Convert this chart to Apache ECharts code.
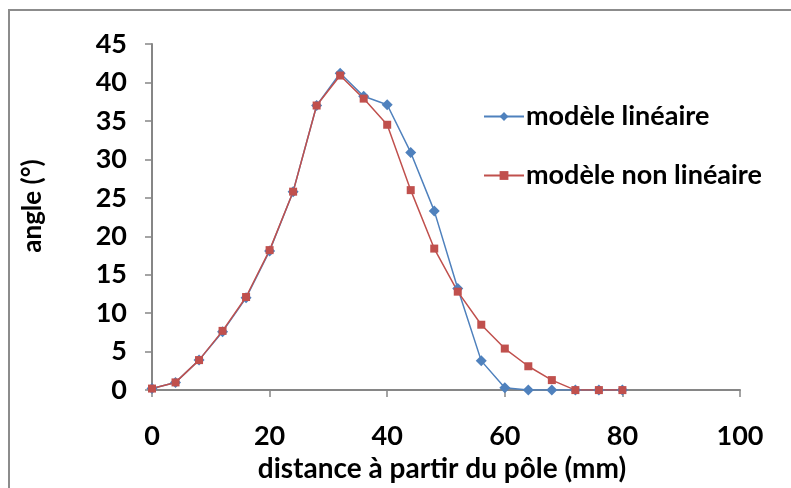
<!DOCTYPE html>
<html>
<head>
<meta charset="utf-8">
<script src="https://cdn.jsdelivr.net/npm/echarts@6/dist/echarts.min.js"></script>
<style>html,body{margin:0;padding:0;background:#fff}#c{width:791px;height:488px}</style>
</head>
<body>
<div id="c"></div>
<script>
const distances = [0,4,8,12,16,20,24,28,32,36,40,44,48,52,56,60,64,68,72,76,80];
const lineaire = [0.2,1.0,3.9,7.6,12.0,18.1,25.8,37.0,41.2,38.2,37.1,30.9,23.3,13.2,3.8,0.3,0,0,0,0,0];
const nonLineaire = [0.2,1.0,3.9,7.7,12.1,18.2,25.8,37.0,40.9,37.9,34.5,26.0,18.4,12.8,8.5,5.4,3.1,1.3,0,0,0];
const xTicks = [0,20,40,60,80,100];
const yTicks = [0,5,10,15,20,25,30,35,40,45];
const seriesNames = ['modèle linéaire','modèle non linéaire'];

const FONT = 'Lato, "Open Sans", sans-serif';
const chart = echarts.init(document.getElementById('c'), null, {renderer:'canvas'});
const axisColor = '#868686';
chart.setOption({
  animation:false,
  graphic:[{type:'rect', shape:{x:9,y:10,width:800,height:500}, style:{fill:'none', stroke:'#8c8c8c', lineWidth:2}, silent:true}],
  grid:{left:152, top:44, width:588, height:349, containLabel:false},
  legend:{
    orient:'vertical', left:478, top:98, itemGap:32, itemWidth:40, itemHeight:11,
    textStyle:{fontFamily:FONT, fontWeight:'bold', fontSize:27, color:'#000', padding:[0,0,0,-3]},
    data:seriesNames
  },
  xAxis:{
    type:'value', min:xTicks[0], max:xTicks[xTicks.length-1], interval:20,
    name:'distance à partir du pôle (mm)', nameLocation:'middle', nameGap:62,
    nameTextStyle:{fontFamily:FONT, fontWeight:'bold', fontSize:28, color:'#000', padding:[0,8,0,0]},
    axisLine:{lineStyle:{color:axisColor, width:2}},
    axisTick:{length:7, lineStyle:{color:axisColor, width:1.5}},
    axisLabel:{margin:33, fontFamily:FONT, fontWeight:'bold', fontSize:27, color:'#000'},
    splitLine:{show:false}
  },
  yAxis:{
    type:'value', min:yTicks[0], max:yTicks[yTicks.length-1], interval:5,
    name:'angle (°)', nameLocation:'middle', nameGap:106, nameRotate:90,
    nameTextStyle:{fontFamily:FONT, fontWeight:'bold', fontSize:26, color:'#000', padding:[0,0,0,22]},
    axisLine:{show:true, lineStyle:{color:axisColor, width:2}},
    axisTick:{show:true, length:7, lineStyle:{color:axisColor, width:1.5}},
    axisLabel:{margin:25, fontFamily:FONT, fontWeight:'bold', fontSize:27, color:'#000'},
    splitLine:{show:false}
  },
  series:[
    {name:seriesNames[0], type:'line', data:distances.map((d,i)=>[d,lineaire[i]]),
     symbol:'diamond', symbolSize:11, color:'#4F81BD',
     lineStyle:{width:1.5, color:'#4F81BD'}, itemStyle:{color:'#4F81BD'}},
    {name:seriesNames[1], type:'line', data:distances.map((d,i)=>[d,nonLineaire[i]]),
     symbol:'rect', symbolSize:8, color:'#C0504D',
     lineStyle:{width:1.5, color:'#C0504D'}, itemStyle:{color:'#C0504D'}}
  ]
});
</script>
</body>
</html>
